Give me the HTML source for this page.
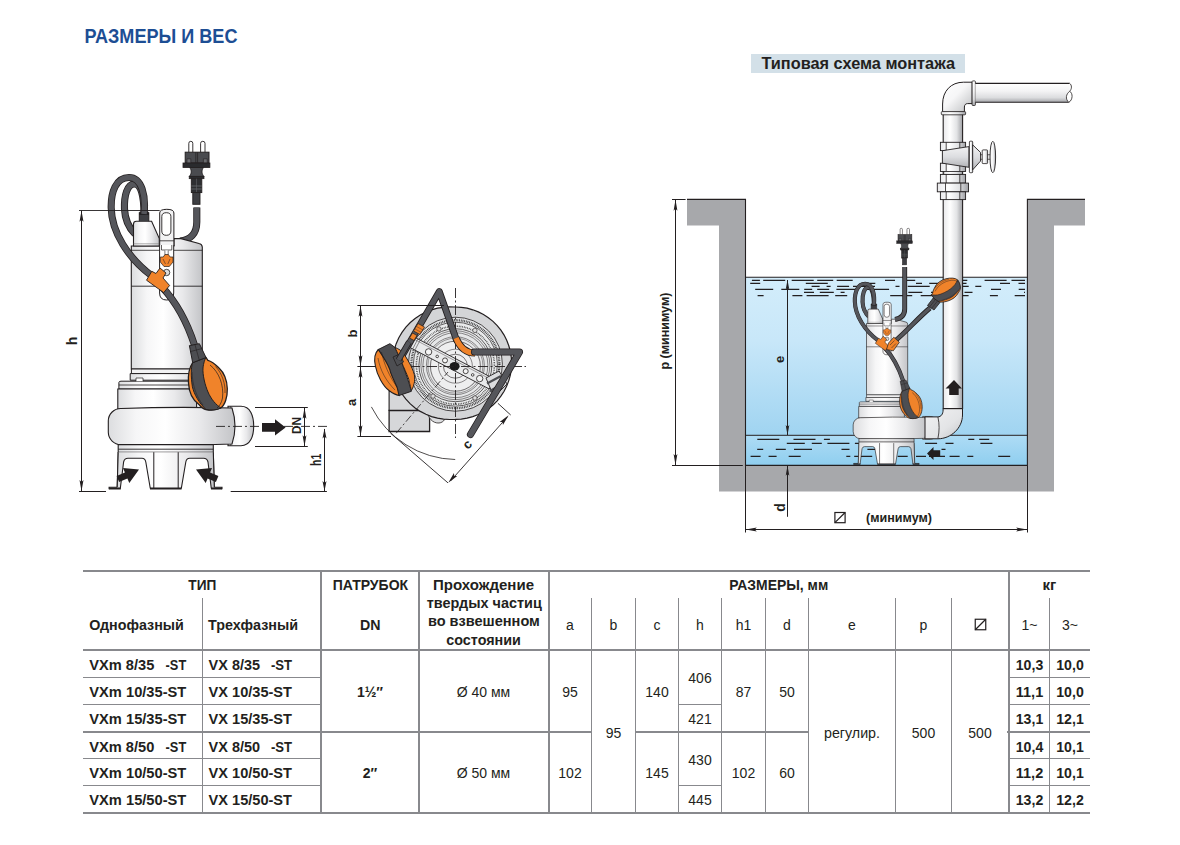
<!DOCTYPE html><html><head><meta charset="utf-8"><style>html,body{margin:0;padding:0;background:#fff;width:1180px;height:845px;overflow:hidden}svg{display:block}text{font-family:"Liberation Sans",sans-serif}</style></head><body>
<svg width="1180" height="845" viewBox="0 0 1180 845">
<defs>
<linearGradient id="water" x1="0" y1="0" x2="0" y2="1">
<stop offset="0" stop-color="#d3edfb"/><stop offset="0.4" stop-color="#c8e7f9"/><stop offset="1" stop-color="#a0d4f1"/></linearGradient>
<linearGradient id="water2" x1="0" y1="0" x2="0" y2="1">
<stop offset="0" stop-color="#aedcf5"/><stop offset="1" stop-color="#8fceef"/></linearGradient>
<linearGradient id="mV" x1="0" y1="0" x2="1" y2="0">
<stop offset="0" stop-color="#dcdddf"/><stop offset="0.22" stop-color="#f6f6f7"/><stop offset="0.45" stop-color="#ffffff"/><stop offset="0.72" stop-color="#e9e9eb"/><stop offset="1" stop-color="#c3c4c7"/></linearGradient>
<linearGradient id="mH" x1="0" y1="0" x2="0" y2="1">
<stop offset="0" stop-color="#f4f4f5"/><stop offset="0.45" stop-color="#ffffff"/><stop offset="1" stop-color="#bdbec1"/></linearGradient>
<linearGradient id="pipeV" x1="0" y1="0" x2="1" y2="0">
<stop offset="0" stop-color="#e8e8ea"/><stop offset="0.35" stop-color="#ffffff"/><stop offset="0.7" stop-color="#e2e3e5"/><stop offset="1" stop-color="#9fa0a4"/></linearGradient>
<linearGradient id="pipeH" x1="0" y1="0" x2="0" y2="1">
<stop offset="0" stop-color="#ffffff"/><stop offset="0.4" stop-color="#f4f4f5"/><stop offset="0.75" stop-color="#dcdddf"/><stop offset="1" stop-color="#a4a5a9"/></linearGradient>
<linearGradient id="elbow" x1="0" y1="0" x2="1" y2="1">
<stop offset="0" stop-color="#ffffff"/><stop offset="0.45" stop-color="#f6f6f7"/><stop offset="0.8" stop-color="#d0d1d3"/><stop offset="1" stop-color="#b0b1b4"/></linearGradient>
<linearGradient id="coneG" x1="0" y1="0" x2="0" y2="1">
<stop offset="0" stop-color="#f2f2f3"/><stop offset="0.5" stop-color="#dcdde0"/><stop offset="1" stop-color="#b2b3b6"/></linearGradient>
<linearGradient id="mH2" x1="0" y1="0" x2="1" y2="1">
<stop offset="0" stop-color="#f2f2f3"/><stop offset="0.6" stop-color="#e3e4e6"/><stop offset="1" stop-color="#c4c5c8"/></linearGradient>
<marker id="ah" viewBox="0 0 10 10" refX="10" refY="5" markerWidth="4.2" markerHeight="10" markerUnits="userSpaceOnUse" orient="auto"><path d="M0 0 L10 5 L0 10 L2 5 Z" fill="#231f20"/></marker>
</defs>
<text x="84.5" y="43" font-size="21" font-weight="700" text-anchor="start" fill="#1d4e94" textLength="153" lengthAdjust="spacingAndGlyphs" >РАЗМЕРЫ И ВЕС</text>
<rect x="751" y="54" width="214" height="19" fill="#d3e0e8"/>
<text x="761.5" y="68.7" font-size="16" font-weight="700" text-anchor="start" fill="#231f20" textLength="193.5" lengthAdjust="spacingAndGlyphs" >Типовая схема монтажа</text>
<path d="M687 199 H745.5 V465.4 H1027.4 V199 H1085 V225.6 H1054 V491.6 H719 V225.6 H687 Z" fill="#a7a8ab"/>
<rect x="745.5" y="277.3" width="281.9" height="158" fill="url(#water)"/>
<rect x="745.5" y="435.3" width="281.9" height="30.1" fill="url(#water2)"/>
<path d="M687 199.4 H745.5 V465.4 H1027.4 V199.4 H1085" fill="none" stroke="#231f20" stroke-width="1.1"/>
<line x1="745.5" y1="277.3" x2="1027.4" y2="277.3" stroke="#231f20" stroke-width="1.1" />
<line x1="745.5" y1="435.3" x2="1027.4" y2="435.3" stroke="#231f20" stroke-width="1" />
<path d="M751.9 280.3H759.9 M763.2 280.3H785.2 M791.7 280.3H813.7 M817.2 280.3H833.2 M836.7 280.3H852.7 M885.0 280.3H895.0 M903.2 280.3H915.2 M953.3 280.3H967.3 M984.6 280.3H1006.6 M1011.5 280.3H1025.0 M750.2 283.4H760.2 M805.8 283.4H827.8 M861.3 283.4H875.3 M916.0 283.4H922.0 M929.2 283.4H947.2 M952.5 283.4H966.5 M1000.0 283.4H1010.0 M1018.5 283.4H1025.0 M811.6 286.3H819.6 M826.6 286.3H830.6 M837.1 286.3H849.1 M853.0 286.3H875.0 M895.5 286.3H899.5 M907.7 286.3H929.7 M935.1 286.3H941.1 M946.5 286.3H956.5 M960.7 286.3H968.7 M975.3 286.3H981.3 M755.2 289.4H773.2 M781.3 289.4H799.3 M804.2 289.4H812.2 M817.2 289.4H829.2 M836.4 289.4H858.4 M867.1 289.4H889.1 M934.7 289.4H944.7 M991.0 289.4H1001.0 M1018.7 289.4H1025.0 M804.0 292.4H814.0 M819.8 292.4H833.8 M840.6 292.4H844.6 M908.3 292.4H922.3 M931.0 292.4H947.0 M964.5 292.4H972.5 M1024.0 292.4H1025.0 M757.6 295.6H763.6 M792.4 295.6H802.4 M806.6 295.6H828.6 M835.2 295.6H847.2 M890.2 295.6H912.2 M920.7 295.6H942.7 M946.6 295.6H968.6 M989.9 295.6H997.9 M1014.7 295.6H1025.0 M757.3 439.4H779.3 M793.5 439.4H815.5 M823.9 439.4H829.9 M862.7 439.4H874.7 M968.3 439.4H974.3 M979.2 439.4H989.2 M786.8 443.4H804.8 M811.8 443.4H821.8 M827.4 443.4H849.4 M854.9 443.4H868.9 M876.2 443.4H880.2 M886.0 443.4H890.0 M925.1 443.4H937.1 M945.5 443.4H953.5 M980.4 443.4H992.4 M757.2 449.4H763.2 M775.8 449.4H785.8 M794.0 449.4H812.0 M841.5 449.4H849.5 M867.4 449.4H875.4 M941.5 449.4H945.5 M750.6 456.3H760.6 M768.6 456.3H776.6 M788.7 456.3H800.7 M846.3 456.3H850.3 M854.2 456.3H872.2 M897.7 456.3H907.7 M916.0 456.3H926.0 M929.0 456.3H945.0 M949.6 456.3H959.6 M967.3 456.3H973.3 M998.2 456.3H1010.2" stroke="#231f20" stroke-width="1.15" fill="none"/>
<rect x="943.2" y="114" width="19.4" height="296" fill="url(#pipeV)"/>
<line x1="943.2" y1="114" x2="943.2" y2="409" stroke="#231f20" stroke-width="1.1" />
<line x1="962.6" y1="114" x2="962.6" y2="409" stroke="#231f20" stroke-width="1.1" />
<path d="M942.6 112 V104 C942.6 91 951 82.2 963.5 82.2 H972.2 V103.6 H967.5 C965.6 103.6 964.4 105 964.4 107 V112 Z" fill="url(#elbow)" stroke="#231f20" stroke-width="1"/>
<rect x="941.3" y="111.6" width="24.3" height="3.2" rx="0.8" fill="url(#pipeV)" stroke="#231f20" stroke-width="0.8"/>
<rect x="972.1" y="80.9" width="3.3" height="24.6" rx="0.8" fill="url(#pipeH)" stroke="#231f20" stroke-width="0.8"/>
<path d="M975.4 83.4 H1069.7 C1072 85 1072 89 1069.7 91.3 C1073 93 1073 100 1068.8 102.3 H975.4 Z" fill="url(#pipeH)"/>
<line x1="975.4" y1="83.4" x2="1069.7" y2="83.4" stroke="#231f20" stroke-width="1.1" />
<line x1="975.4" y1="102.3" x2="1068.8" y2="102.3" stroke="#231f20" stroke-width="1.1" />
<path d="M1069.7 83.4 C1072 85 1072 89 1069.7 91.3 C1066 94 1065 99 1068.8 102.3 C1073 100 1073 93 1069.7 91.3" fill="#fff" stroke="#231f20" stroke-width="0.8" />
<rect x="940.4" y="142.3" width="25.200000000000045" height="8.299999999999983" fill="url(#pipeV)" stroke="#231f20" stroke-width="0.9"/>
<path d="M946.2 142.3 V150.6 M959.8 142.3 V150.6" fill="none" stroke="#231f20" stroke-width="0.8" />
<rect x="940.4" y="163.2" width="25.200000000000045" height="8.300000000000011" fill="url(#pipeV)" stroke="#231f20" stroke-width="0.9"/>
<path d="M946.2 163.2 V171.5 M959.8 163.2 V171.5" fill="none" stroke="#231f20" stroke-width="0.8" />
<rect x="943.8" y="171.5" width="18.5" height="2.9" fill="url(#pipeV)" stroke="#231f20" stroke-width="0.7"/>
<rect x="940.4" y="174.4" width="25.200000000000045" height="8.699999999999989" fill="url(#pipeV)" stroke="#231f20" stroke-width="0.9"/>
<path d="M946.2 174.4 V183.1 M959.8 174.4 V183.1" fill="none" stroke="#231f20" stroke-width="0.8" />
<rect x="937.3" y="183.1" width="31.200000000000045" height="8.700000000000017" fill="url(#pipeV)" stroke="#231f20" stroke-width="0.9"/>
<path d="M945.5 183.1 V191.8 M960.8 183.1 V191.8" fill="none" stroke="#231f20" stroke-width="0.8" />
<rect x="940.4" y="191.8" width="25.200000000000045" height="7.799999999999983" fill="url(#pipeV)" stroke="#231f20" stroke-width="0.9"/>
<path d="M946.2 191.8 V199.6 M959.8 191.8 V199.6" fill="none" stroke="#231f20" stroke-width="0.8" />
<path d="M942.4 150.7 L968.9 146.6 V167.3 L942.4 163.2 Z" fill="url(#coneG)" stroke="#231f20" stroke-width="0.9"/>
<rect x="969.4" y="141.2" width="3.3" height="31.5" rx="0.8" fill="url(#pipeV)" stroke="#231f20" stroke-width="0.8"/>
<path d="M972.7 144.9 L980.5 152.4 V161.1 L972.7 169.8 Z" fill="url(#coneG)" stroke="#231f20" stroke-width="0.9"/>
<rect x="980.5" y="154.8" width="11" height="4.4" fill="#eee" stroke="#231f20" stroke-width="0.7"/>
<rect x="982.2" y="149.9" width="5.4" height="13.7" rx="0.8" fill="url(#pipeV)" stroke="#231f20" stroke-width="0.8"/>
<ellipse cx="992.8" cy="157" rx="2.8" ry="15.7" fill="url(#pipeV)" stroke="#231f20" stroke-width="0.9"/>
<g transform="translate(790.35 180.81) scale(0.58)">
<path d="M144 214 C144 196 141 184 134.5 184 C127 184 124 196 124.5 209 C125 220 129 228 135 234" fill="none" stroke="#231f20" stroke-width="7.1" stroke-linecap="butt" stroke-linejoin="round"/>
<path d="M144 214 C144 196 141 184 134.5 184 C127 184 124 196 124.5 209 C125 220 129 228 135 234" fill="none" stroke="#55565b" stroke-width="5.5" stroke-linecap="butt" stroke-linejoin="round"/>
<path d="M131.3 247 V369 H202.3 V247 Q202 244 199 243.5 L181 238.6 H174 V246 H131.3 Z" fill="url(#mV)" stroke="#231f20" stroke-width="1.1" />
<path d="M131.3 286.2 H202.3" fill="none" stroke="#231f20" stroke-width="0.9" />
<path d="M131.3 250.3 H159.6 M173.7 250.3 H202.3" fill="none" stroke="#231f20" stroke-width="0.8" />
<path d="M133.5 246 V224 Q133.5 221.2 136.5 221.2 H151.6 L159.3 238.5 V246 Z" fill="url(#mV)" stroke="#231f20" stroke-width="1.1" />
<path d="M133.5 243.8 H159" fill="none" stroke="#777" stroke-width="0.6" />
<path d="M139.3 221.2 V212.3 H148.8 V221.2" fill="#3d3e42" stroke="#231f20" stroke-width="1" />
<path d="M139.3 214 H148.8" fill="none" stroke="#111" stroke-width="1.2" />
<path d="M159.7 246 V213 Q159.7 209.3 166.8 209.3 Q173.9 209.3 173.9 213 V246" fill="#f2f2f3" stroke="#231f20" stroke-width="1" />
<path d="M161.8 231 V216.5 Q161.8 212.7 166.3 212.7 Q170.9 212.7 170.9 216.5 V231 Q170.9 235.3 166.3 235.3 Q161.8 235.3 161.8 231 Z" fill="#ffffff" stroke="#231f20" stroke-width="0.9" />
<path d="M159.7 240.8 H173.9" fill="none" stroke="#231f20" stroke-width="0.8" />
<path d="M159.6 245 V293 Q159.6 300 166.6 300 Q173.7 300 173.7 293 V245" fill="#ffffff" stroke="#231f20" stroke-width="1" />
<path d="M161.5 245 V250 H171.8 V245" fill="none" stroke="#231f20" stroke-width="0.7" />
<path d="M164.9 250.5 V256 H168.2 V250.5" fill="#fff" stroke="#231f20" stroke-width="0.6" />
<path d="M160.3 257 H163.2 L165 254.5 H168.3 L170.2 257 H173 V262 L169.3 266.5 H164 L160.3 262 Z" fill="#f0832a" stroke="#231f20" stroke-width="0.7" />
<path d="M163 259 L165.5 264 M170 259 L167.8 264" fill="none" stroke="#231f20" stroke-width="0.5" />
<circle cx="166.6" cy="272.5" r="3.2" fill="#ddd" stroke="#231f20" stroke-width="0.8"/>
<path d="M131.4 369 H202 V373.6 H131.4 Z" fill="#f2f2f3" stroke="#231f20" stroke-width="1" />
<path d="M130.2 373.6 H203 V380.2 H130.2 Z" fill="url(#mV)" stroke="#231f20" stroke-width="1" />
<path d="M118.9 389 V382.5 Q118.9 381.2 121 381.2 H200.4 V389 Z" fill="url(#mV)" stroke="#231f20" stroke-width="1" />
<path d="M118.9 385 H200.4" fill="none" stroke="#231f20" stroke-width="0.8" />
<path d="M136 381.2 V378 H143 V381.2" fill="#fff" stroke="#231f20" stroke-width="0.7" />
<path d="M117.8 409 V389 H196.6 V409 Z" fill="url(#mV)" stroke="#231f20" stroke-width="1.1" />
<path d="M228 406.3 H241 C250.5 406.3 253.7 416 253.7 426 C253.7 436 250.5 445.7 241 445.7 H228 Z" fill="url(#mV)" stroke="#231f20" stroke-width="1.1" />
<path d="M230.7 406.3 Q235 426 230.7 445.7" fill="none" stroke="#231f20" stroke-width="0.8" />
<path d="M121 408.5 Q175 406.5 232 408 Q238 426 232 444 Q175 446 121 444.6 A12.5 12.5 0 0 1 108.3 432.3 V420.8 A12.5 12.5 0 0 1 121 408.5 Z" fill="url(#mV)" stroke="#231f20" stroke-width="1.1" />
<path d="M118.2 452.2 V444.6 H213.3 V452.2 Z" fill="url(#mV)" stroke="#231f20" stroke-width="1.1" />
<path d="M118.2 449.2 H213.3" fill="none" stroke="#231f20" stroke-width="0.9" />
<path d="M118.2 452.2 L117.2 487.3 H109.1 V489.3 M222 489.3 V487.3 H214.3 L213.3 452.2" fill="none" stroke="#231f20" stroke-width="1.1" />
<path fill-rule="evenodd" d="M118.2 452.2 L117.2 488.3 H214.3 L213.3 452.2 Z M120.3 488.3 L123.6 462 Q124.5 458.3 128 458.3 H142 Q145 458.3 145.8 462 L150.3 488.3 Z M181.3 488.3 L185.8 462 Q186.6 458.3 189.6 458.3 H203.6 Q207 458.3 208 462 L211.3 488.3 Z" fill="url(#mV)"/>
<path d="M118.2 452.2 L117.2 487.3 M214.3 487.3 L213.3 452.2" fill="none" stroke="#231f20" stroke-width="1.1" />
<path d="M120.3 488.5 L123.6 462 Q124.5 458.3 128 458.3 H142 Q145 458.3 145.8 462 L150.3 488.5" fill="none" stroke="#231f20" stroke-width="1.1" />
<path d="M181.3 488.5 L185.8 462 Q186.6 458.3 189.6 458.3 H203.6 Q207 458.3 208 462 L211.3 488.5" fill="none" stroke="#231f20" stroke-width="1.1" />
<path d="M153.8 452.2 V488 M178.2 452.2 V488" fill="none" stroke="#231f20" stroke-width="1" />
<path d="M109.1 488.4 H120.8 M150 488.4 H181.6 M211 488.4 H222" fill="none" stroke="#231f20" stroke-width="2" />
<path d="M144 214 C146 196 142 177.5 129 177.5 C116 177.5 110.8 192 111.2 208 C111.6 232 128 258 152 276" fill="none" stroke="#231f20" stroke-width="7.1" stroke-linecap="butt" stroke-linejoin="round"/>
<path d="M144 214 C146 196 142 177.5 129 177.5 C116 177.5 110.8 192 111.2 208 C111.6 232 128 258 152 276" fill="none" stroke="#55565b" stroke-width="5.5" stroke-linecap="butt" stroke-linejoin="round"/>
<path d="M162 287 C176 302 187 322 194.5 345" fill="none" stroke="#231f20" stroke-width="7.1" stroke-linecap="butt" stroke-linejoin="round"/>
<path d="M162 287 C176 302 187 322 194.5 345" fill="none" stroke="#55565b" stroke-width="5.5" stroke-linecap="butt" stroke-linejoin="round"/>
<path d="M146.5 280.2 L151.8 271.3 L156 273.5 L160 268 L166 273 L163 278 L169.6 285.5 L163.7 292.6 Z" fill="#f0832a" stroke="#231f20" stroke-width="0.9" />
<g transform="translate(0 0) rotate(0) scale(1.0)">
<path d="M192.7 362.7 C189 368 188 376 188.5 383 C189 392 193 400 198.4 404 C201 407 203 409 206 409.5 C211 410.5 217 410 221.1 407.7 C225 405 227.5 397 227.3 388.7 C227 380 224 372.6 219 368 C215 364 211 361 207.9 360.3 L206 357.5 Z" fill="#f0832a" stroke="#231f20" stroke-width="1.3" />
<path d="M192.7 362.7 C190.8 368 190.8 376 192.4 386.8 C194 394 199 403 206 409.5 C211 410.5 217 410 221.1 408 C216 405 211 399 208 392 C205 385 202.5 375 203 368 C203.5 363 205 359 206 357.5 Z" fill="#4d4e52" stroke="#231f20" stroke-width="1" />
<path d="M210 365 C219 372 224 385 222.5 398 C221.5 403 219.5 406 217 408" fill="none" stroke="#231f20" stroke-width="0.7" />
<path d="M215.5 366.5 C222 373 225.5 384 225 393" fill="none" stroke="#231f20" stroke-width="0.6" />
<path d="M192 372 C192.5 385 196 396 203 405" fill="none" stroke="#231f20" stroke-width="0.5" />
<path d="M189.4 345.6 L199.4 343.7 L206 357.5 L192.7 362.7 Z" fill="#4d4e52" stroke="#231f20" stroke-width="1" />
<path d="M190.6 351.5 L201.8 348.6 M195 344.8 L199.3 360.3" fill="none" stroke="#231f20" stroke-width="0.6" />
</g>
</g>
<path d="M943.1 408.6 V410 C943.1 414 941 416.9 937.9 416.9 H925 V438.8 H937.9 C951 438.8 962.5 428 962.5 415 V408.6 Z" fill="url(#mH2)" stroke="#231f20" stroke-width="1"/>
<line x1="943.1" y1="408.6" x2="962.5" y2="408.6" stroke="#231f20" stroke-width="1" />
<path d="M937.9 416.9 C939.5 424 939.5 431 937.9 438.6" fill="none" stroke="#231f20" stroke-width="0.8" />
<path d="M954 380 L962 388.5 H958.7 V395 H949.2 V388.5 H945.5 Z" fill="#231f20"/>
<path d="M927 453.5 L933.5 446.9 V450.3 H940.2 V457 H933.5 V460.1 Z" fill="#231f20"/>
<path d="M904.7 267 V309 C904.7 315 901 318.5 895 319.5" fill="none" stroke="#231f20" stroke-width="4.9" stroke-linecap="butt" stroke-linejoin="round"/>
<path d="M904.7 267 V309 C904.7 315 901 318.5 895 319.5" fill="none" stroke="#55565b" stroke-width="3.3" stroke-linecap="butt" stroke-linejoin="round"/>
<g transform="translate(900 228.3) scale(0.58)">
<path d="M0.2 11 V2 Q0.2 0 2.2 0 Q4.2 0 4.2 2 V11" fill="#fff" stroke="#231f20" stroke-width="0.9"/>
<path d="M12 11 V2 Q12 0 14.2 0 Q16.4 0 16.4 2 V11" fill="#fff" stroke="#231f20" stroke-width="0.9"/>
<rect x="-3.4" y="10.9" width="23.8" height="10.8" fill="#4a4b4f" stroke="#231f20" stroke-width="1"/>
<path d="M7.2 11 V21.5 M9 11 V21.5" stroke="#231f20" stroke-width="0.7"/>
<path d="M-1.6 21.5 V17.5 H2.2 V21.5 M18.6 21.5 V17.5 H14.8 V21.5" fill="#6b6c70" stroke="#231f20" stroke-width="0.6"/>
<rect x="-5.6" y="21.7" width="26.9" height="4.5" fill="#2a2b2e" stroke="#231f20" stroke-width="0.8"/>
<path d="M1.1 26.2 C3.2 29 3.2 32.5 0.6 35.1 H15.4 C12.8 32.5 12.8 29 14.9 26.2 Z" fill="#4a4b4f" stroke="#231f20" stroke-width="0.9"/>
<rect x="0.6" y="35.1" width="14.8" height="2.3" fill="#2a2b2e" stroke="#231f20" stroke-width="0.7"/>
<rect x="2.7" y="37.4" width="10.5" height="13.9" fill="#2e2f32" stroke="#231f20" stroke-width="0.9"/>
<path d="M2.7 44.7 H13.2 M2.7 47.7 H13.2" stroke="#6b6c70" stroke-width="0.8"/>
<path d="M7.9 37.4 V51.3" stroke="#6b6c70" stroke-width="0.5"/>
<rect x="4.2" y="51.3" width="7.2" height="11.7" fill="#3e3f43" stroke="#231f20" stroke-width="0.9"/>
</g>
<path d="M895 341 C906 332 918 318 930 308" fill="none" stroke="#231f20" stroke-width="4.9" stroke-linecap="butt" stroke-linejoin="round"/>
<path d="M895 341 C906 332 918 318 930 308" fill="none" stroke="#55565b" stroke-width="3.3" stroke-linecap="butt" stroke-linejoin="round"/>
<path d="M886.5 349.5 L888.5 343 L893.8 337.2 L899.3 342.3 L893.3 350.8 Z" fill="#f0832a" stroke="#231f20" stroke-width="0.7" />
<path d="M890 345 L894.5 340.5 M891.5 348 L896 343.5" fill="none" stroke="#231f20" stroke-width="0.5" />
<g transform="translate(946.8 290.5) rotate(-103) scale(0.57) translate(-206.9 -385.4)">
<g transform="translate(0 0) rotate(0) scale(1.0)">
<path d="M192.7 362.7 C189 368 188 376 188.5 383 C189 392 193 400 198.4 404 C201 407 203 409 206 409.5 C211 410.5 217 410 221.1 407.7 C225 405 227.5 397 227.3 388.7 C227 380 224 372.6 219 368 C215 364 211 361 207.9 360.3 L206 357.5 Z" fill="#f0832a" stroke="#231f20" stroke-width="1.3" />
<path d="M192.7 362.7 C190.8 368 190.8 376 192.4 386.8 C194 394 199 403 206 409.5 C211 410.5 217 410 221.1 408 C216 405 211 399 208 392 C205 385 202.5 375 203 368 C203.5 363 205 359 206 357.5 Z" fill="#4d4e52" stroke="#231f20" stroke-width="1" />
<path d="M210 365 C219 372 224 385 222.5 398 C221.5 403 219.5 406 217 408" fill="none" stroke="#231f20" stroke-width="0.7" />
<path d="M215.5 366.5 C222 373 225.5 384 225 393" fill="none" stroke="#231f20" stroke-width="0.6" />
<path d="M192 372 C192.5 385 196 396 203 405" fill="none" stroke="#231f20" stroke-width="0.5" />
</g>
</g>
<path d="M927.5 305.5 L933.2 298 L940 302.5 L934 310 Z" fill="#4d4e52" stroke="#231f20" stroke-width="0.8" />
<path d="M929.5 307 L935.5 299.5 M931.5 308.5 L937.5 301" fill="none" stroke="#231f20" stroke-width="0.5" />
<line x1="672" y1="199.5" x2="685.6" y2="199.5" stroke="#231f20" stroke-width="1" />
<line x1="672" y1="465.5" x2="742.8" y2="465.5" stroke="#231f20" stroke-width="1" />
<line x1="675.5" y1="200" x2="675.5" y2="465" stroke="#231f20" stroke-width="1" />
<path d="M675.50 199.80 L677.40 210.80 L675.50 208.80 L673.60 210.80 Z" fill="#231f20"/>
<path d="M675.50 465.00 L673.60 454.00 L675.50 456.00 L677.40 454.00 Z" fill="#231f20"/>
<text x="0" y="0" transform="translate(668.8 331.1) rotate(-90)" font-size="13" font-weight="700" text-anchor="middle" fill="#231f20" textLength="77" lengthAdjust="spacingAndGlyphs">p (минимум)</text>
<line x1="787.5" y1="280" x2="787.5" y2="435" stroke="#231f20" stroke-width="1" />
<path d="M787.50 279.80 L789.30 289.80 L787.50 287.80 L785.70 289.80 Z" fill="#231f20"/>
<path d="M787.50 435.00 L785.70 425.00 L787.50 427.00 L789.30 425.00 Z" fill="#231f20"/>
<text x="0" y="0" transform="translate(784.1 359.4) rotate(-90)" font-size="13" font-weight="700" text-anchor="middle" fill="#231f20">e</text>
<line x1="787.5" y1="466" x2="787.5" y2="516.8" stroke="#231f20" stroke-width="1" />
<path d="M787.50 465.80 L789.30 475.80 L787.50 473.80 L785.70 475.80 Z" fill="#231f20"/>
<text x="0" y="0" transform="translate(785.2 507.5) rotate(-90)" font-size="14" font-weight="700" text-anchor="middle" fill="#231f20">d</text>
<line x1="745.5" y1="466" x2="745.5" y2="532.5" stroke="#231f20" stroke-width="1" />
<line x1="1027.5" y1="466" x2="1027.5" y2="532.5" stroke="#231f20" stroke-width="1" />
<line x1="746" y1="529.5" x2="1027" y2="529.5" stroke="#231f20" stroke-width="1" />
<path d="M745.80 529.50 L756.80 527.60 L754.80 529.50 L756.80 531.40 Z" fill="#231f20"/>
<path d="M1027.10 529.50 L1016.10 531.40 L1018.10 529.50 L1016.10 527.60 Z" fill="#231f20"/>
<rect x="834.9" y="512.5" width="10.2" height="10.2" fill="none" stroke="#231f20" stroke-width="1.2"/>
<line x1="834.9" y1="522.7" x2="845.1" y2="512.5" stroke="#231f20" stroke-width="1.2"/>
<text x="866" y="521.6" font-size="13" font-weight="700" text-anchor="start" fill="#231f20" textLength="66" lengthAdjust="spacingAndGlyphs" >(минимум)</text>
<path d="M196.8 207.5 V222 C196.8 234 190 240 180 241" fill="none" stroke="#231f20" stroke-width="7.1" stroke-linecap="butt" stroke-linejoin="round"/>
<path d="M196.8 207.5 V222 C196.8 234 190 240 180 241" fill="none" stroke="#55565b" stroke-width="5.5" stroke-linecap="butt" stroke-linejoin="round"/>
<path d="M144 214 C144 196 141 184 134.5 184 C127 184 124 196 124.5 209 C125 220 129 228 135 234" fill="none" stroke="#231f20" stroke-width="7.1" stroke-linecap="butt" stroke-linejoin="round"/>
<path d="M144 214 C144 196 141 184 134.5 184 C127 184 124 196 124.5 209 C125 220 129 228 135 234" fill="none" stroke="#55565b" stroke-width="5.5" stroke-linecap="butt" stroke-linejoin="round"/>
<path d="M131.3 247 V369 H202.3 V247 Q202 244 199 243.5 L181 238.6 H174 V246 H131.3 Z" fill="url(#mV)" stroke="#231f20" stroke-width="1.1" />
<path d="M131.3 286.2 H202.3" fill="none" stroke="#231f20" stroke-width="0.9" />
<path d="M131.3 250.3 H159.6 M173.7 250.3 H202.3" fill="none" stroke="#231f20" stroke-width="0.8" />
<path d="M133.5 246 V224 Q133.5 221.2 136.5 221.2 H151.6 L159.3 238.5 V246 Z" fill="url(#mV)" stroke="#231f20" stroke-width="1.1" />
<path d="M133.5 243.8 H159" fill="none" stroke="#777" stroke-width="0.6" />
<path d="M139.3 221.2 V212.3 H148.8 V221.2" fill="#3d3e42" stroke="#231f20" stroke-width="1" />
<path d="M139.3 214 H148.8" fill="none" stroke="#111" stroke-width="1.2" />
<path d="M159.7 246 V213 Q159.7 209.3 166.8 209.3 Q173.9 209.3 173.9 213 V246" fill="#f2f2f3" stroke="#231f20" stroke-width="1" />
<path d="M161.8 231 V216.5 Q161.8 212.7 166.3 212.7 Q170.9 212.7 170.9 216.5 V231 Q170.9 235.3 166.3 235.3 Q161.8 235.3 161.8 231 Z" fill="#ffffff" stroke="#231f20" stroke-width="0.9" />
<path d="M159.7 240.8 H173.9" fill="none" stroke="#231f20" stroke-width="0.8" />
<path d="M159.6 245 V293 Q159.6 300 166.6 300 Q173.7 300 173.7 293 V245" fill="#ffffff" stroke="#231f20" stroke-width="1" />
<path d="M161.5 245 V250 H171.8 V245" fill="none" stroke="#231f20" stroke-width="0.7" />
<path d="M164.9 250.5 V256 H168.2 V250.5" fill="#fff" stroke="#231f20" stroke-width="0.6" />
<path d="M160.3 257 H163.2 L165 254.5 H168.3 L170.2 257 H173 V262 L169.3 266.5 H164 L160.3 262 Z" fill="#f0832a" stroke="#231f20" stroke-width="0.7" />
<path d="M163 259 L165.5 264 M170 259 L167.8 264" fill="none" stroke="#231f20" stroke-width="0.5" />
<circle cx="166.6" cy="272.5" r="3.2" fill="#ddd" stroke="#231f20" stroke-width="0.8"/>
<path d="M131.4 369 H202 V373.6 H131.4 Z" fill="#f2f2f3" stroke="#231f20" stroke-width="1" />
<path d="M130.2 373.6 H203 V380.2 H130.2 Z" fill="url(#mV)" stroke="#231f20" stroke-width="1" />
<path d="M118.9 389 V382.5 Q118.9 381.2 121 381.2 H200.4 V389 Z" fill="url(#mV)" stroke="#231f20" stroke-width="1" />
<path d="M118.9 385 H200.4" fill="none" stroke="#231f20" stroke-width="0.8" />
<path d="M136 381.2 V378 H143 V381.2" fill="#fff" stroke="#231f20" stroke-width="0.7" />
<path d="M117.8 409 V389 H196.6 V409 Z" fill="url(#mV)" stroke="#231f20" stroke-width="1.1" />
<path d="M228 406.3 H241 C250.5 406.3 253.7 416 253.7 426 C253.7 436 250.5 445.7 241 445.7 H228 Z" fill="url(#mV)" stroke="#231f20" stroke-width="1.1" />
<path d="M230.7 406.3 Q235 426 230.7 445.7" fill="none" stroke="#231f20" stroke-width="0.8" />
<path d="M121 408.5 Q175 406.5 232 408 Q238 426 232 444 Q175 446 121 444.6 A12.5 12.5 0 0 1 108.3 432.3 V420.8 A12.5 12.5 0 0 1 121 408.5 Z" fill="url(#mV)" stroke="#231f20" stroke-width="1.1" />
<path d="M118.2 452.2 V444.6 H213.3 V452.2 Z" fill="url(#mV)" stroke="#231f20" stroke-width="1.1" />
<path d="M118.2 449.2 H213.3" fill="none" stroke="#231f20" stroke-width="0.9" />
<path d="M118.2 452.2 L117.2 487.3 H109.1 V489.3 M222 489.3 V487.3 H214.3 L213.3 452.2" fill="none" stroke="#231f20" stroke-width="1.1" />
<path fill-rule="evenodd" d="M118.2 452.2 L117.2 488.3 H214.3 L213.3 452.2 Z M120.3 488.3 L123.6 462 Q124.5 458.3 128 458.3 H142 Q145 458.3 145.8 462 L150.3 488.3 Z M181.3 488.3 L185.8 462 Q186.6 458.3 189.6 458.3 H203.6 Q207 458.3 208 462 L211.3 488.3 Z" fill="url(#mV)"/>
<path d="M118.2 452.2 L117.2 487.3 M214.3 487.3 L213.3 452.2" fill="none" stroke="#231f20" stroke-width="1.1" />
<path d="M120.3 488.5 L123.6 462 Q124.5 458.3 128 458.3 H142 Q145 458.3 145.8 462 L150.3 488.5" fill="none" stroke="#231f20" stroke-width="1.1" />
<path d="M181.3 488.5 L185.8 462 Q186.6 458.3 189.6 458.3 H203.6 Q207 458.3 208 462 L211.3 488.5" fill="none" stroke="#231f20" stroke-width="1.1" />
<path d="M153.8 452.2 V488 M178.2 452.2 V488" fill="none" stroke="#231f20" stroke-width="1" />
<path d="M109.1 488.4 H120.8 M150 488.4 H181.6 M211 488.4 H222" fill="none" stroke="#231f20" stroke-width="2" />
<path d="M123.0 468.0 L139.0 469.4 L129.3 483.0 L127.4 478.5 L119.1 482.0 L116.6 476.0 L124.9 472.5 Z" fill="#231f20"/>
<path d="M212.0 468.0 L196.0 469.4 L205.7 483.0 L207.6 478.5 L215.9 482.0 L218.4 476.0 L210.1 472.5 Z" fill="#231f20"/>
<path d="M144 214 C146 196 142 177.5 129 177.5 C116 177.5 110.8 192 111.2 208 C111.6 232 128 258 152 276" fill="none" stroke="#231f20" stroke-width="7.1" stroke-linecap="butt" stroke-linejoin="round"/>
<path d="M144 214 C146 196 142 177.5 129 177.5 C116 177.5 110.8 192 111.2 208 C111.6 232 128 258 152 276" fill="none" stroke="#55565b" stroke-width="5.5" stroke-linecap="butt" stroke-linejoin="round"/>
<path d="M162 287 C176 302 187 322 194.5 345" fill="none" stroke="#231f20" stroke-width="7.1" stroke-linecap="butt" stroke-linejoin="round"/>
<path d="M162 287 C176 302 187 322 194.5 345" fill="none" stroke="#55565b" stroke-width="5.5" stroke-linecap="butt" stroke-linejoin="round"/>
<path d="M146.5 280.2 L151.8 271.3 L156 273.5 L160 268 L166 273 L163 278 L169.6 285.5 L163.7 292.6 Z" fill="#f0832a" stroke="#231f20" stroke-width="0.9" />
<g transform="translate(0 0) rotate(0) scale(1.0)">
<path d="M192.7 362.7 C189 368 188 376 188.5 383 C189 392 193 400 198.4 404 C201 407 203 409 206 409.5 C211 410.5 217 410 221.1 407.7 C225 405 227.5 397 227.3 388.7 C227 380 224 372.6 219 368 C215 364 211 361 207.9 360.3 L206 357.5 Z" fill="#f0832a" stroke="#231f20" stroke-width="1.3" />
<path d="M192.7 362.7 C190.8 368 190.8 376 192.4 386.8 C194 394 199 403 206 409.5 C211 410.5 217 410 221.1 408 C216 405 211 399 208 392 C205 385 202.5 375 203 368 C203.5 363 205 359 206 357.5 Z" fill="#4d4e52" stroke="#231f20" stroke-width="1" />
<path d="M210 365 C219 372 224 385 222.5 398 C221.5 403 219.5 406 217 408" fill="none" stroke="#231f20" stroke-width="0.7" />
<path d="M215.5 366.5 C222 373 225.5 384 225 393" fill="none" stroke="#231f20" stroke-width="0.6" />
<path d="M192 372 C192.5 385 196 396 203 405" fill="none" stroke="#231f20" stroke-width="0.5" />
<path d="M189.4 345.6 L199.4 343.7 L206 357.5 L192.7 362.7 Z" fill="#4d4e52" stroke="#231f20" stroke-width="1" />
<path d="M190.6 351.5 L201.8 348.6 M195 344.8 L199.3 360.3" fill="none" stroke="#231f20" stroke-width="0.6" />
</g>
<g transform="translate(188.6 141.3) scale(1.0)">
<path d="M0.2 11 V2 Q0.2 0 2.2 0 Q4.2 0 4.2 2 V11" fill="#fff" stroke="#231f20" stroke-width="0.9"/>
<path d="M12 11 V2 Q12 0 14.2 0 Q16.4 0 16.4 2 V11" fill="#fff" stroke="#231f20" stroke-width="0.9"/>
<rect x="-3.4" y="10.9" width="23.8" height="10.8" fill="#4a4b4f" stroke="#231f20" stroke-width="1"/>
<path d="M7.2 11 V21.5 M9 11 V21.5" stroke="#231f20" stroke-width="0.7"/>
<path d="M-1.6 21.5 V17.5 H2.2 V21.5 M18.6 21.5 V17.5 H14.8 V21.5" fill="#6b6c70" stroke="#231f20" stroke-width="0.6"/>
<rect x="-5.6" y="21.7" width="26.9" height="4.5" fill="#2a2b2e" stroke="#231f20" stroke-width="0.8"/>
<path d="M1.1 26.2 C3.2 29 3.2 32.5 0.6 35.1 H15.4 C12.8 32.5 12.8 29 14.9 26.2 Z" fill="#4a4b4f" stroke="#231f20" stroke-width="0.9"/>
<rect x="0.6" y="35.1" width="14.8" height="2.3" fill="#2a2b2e" stroke="#231f20" stroke-width="0.7"/>
<rect x="2.7" y="37.4" width="10.5" height="13.9" fill="#2e2f32" stroke="#231f20" stroke-width="0.9"/>
<path d="M2.7 44.7 H13.2 M2.7 47.7 H13.2" stroke="#6b6c70" stroke-width="0.8"/>
<path d="M7.9 37.4 V51.3" stroke="#6b6c70" stroke-width="0.5"/>
<rect x="4.2" y="51.3" width="7.2" height="11.7" fill="#3e3f43" stroke="#231f20" stroke-width="0.9"/>
</g>
<line x1="79" y1="210.5" x2="159.7" y2="210.5" stroke="#231f20" stroke-width="0.9" />
<line x1="81.5" y1="210.5" x2="81.5" y2="491" stroke="#231f20" stroke-width="1" />
<path d="M81.50 210.80 L83.50 221.80 L81.50 219.80 L79.50 221.80 Z" fill="#231f20"/>
<path d="M81.50 491.00 L79.50 480.00 L81.50 482.00 L83.50 480.00 Z" fill="#231f20"/>
<line x1="79" y1="491.5" x2="106" y2="491.5" stroke="#231f20" stroke-width="1" />
<line x1="230.7" y1="491.5" x2="326.9" y2="491.5" stroke="#231f20" stroke-width="1" />
<text x="0" y="0" transform="translate(77.2 341) rotate(-90)" font-size="14" font-weight="700" text-anchor="middle" fill="#231f20">h</text>
<line x1="255" y1="407.5" x2="307.8" y2="407.5" stroke="#231f20" stroke-width="1" />
<line x1="255" y1="446.5" x2="307.8" y2="446.5" stroke="#231f20" stroke-width="1" />
<line x1="304.5" y1="407.5" x2="304.5" y2="446" stroke="#231f20" stroke-width="1" />
<path d="M304.50 407.80 L306.40 418.80 L304.50 416.80 L302.60 418.80 Z" fill="#231f20"/>
<path d="M304.50 446.20 L302.60 435.20 L304.50 437.20 L306.40 435.20 Z" fill="#231f20"/>
<text x="0" y="0" transform="translate(300.5 425.5) rotate(-90)" font-size="13" font-weight="700" text-anchor="middle" fill="#231f20" textLength="17" lengthAdjust="spacingAndGlyphs">DN</text>
<line x1="216" y1="426.4" x2="329" y2="426.4" stroke="#231f20" stroke-width="0.9" stroke-dasharray="9 3 2 3"/>
<path d="M262 423 H275 V419.3 L285.6 427.5 L275 435.6 V431.7 H262 Z" fill="#231f20"/>
<line x1="324.5" y1="429" x2="324.5" y2="491" stroke="#231f20" stroke-width="1" />
<path d="M324.50 428.60 L326.50 438.60 L324.50 436.60 L322.50 438.60 Z" fill="#231f20"/>
<path d="M324.50 491.00 L322.50 481.00 L324.50 483.00 L326.50 481.00 Z" fill="#231f20"/>
<text x="0" y="0" transform="translate(321.3 459.9) rotate(-90)" font-size="14" font-weight="700" text-anchor="middle" fill="#231f20" textLength="12" lengthAdjust="spacingAndGlyphs">h1</text>
<path d="M389.1 391.3 H432 V410.5 H389.1 Z" fill="#d6d7d9" stroke="#231f20" stroke-width="1.1" />
<path d="M389.1 410.5 H429.6 V431.5 H389.1 Z" fill="#d6d7d9" stroke="#231f20" stroke-width="1.3" />
<path d="M427.5 409 C427 418 433 423.5 439 423 C444 422.5 446.5 418 446.5 412 Z" fill="#dcdddf" stroke="#231f20" stroke-width="0.8" />
<path d="M511.6 363.2 L511.3 369.1 L510.4 374.9 L508.8 380.6 L506.7 386.1 L504.1 391.3 L500.9 396.2 L497.2 400.8 L493.0 405.0 L488.4 408.7 L483.5 411.9 L478.3 414.5 L472.8 416.6 L467.1 418.2 L461.3 419.1 L455.4 419.4 L449.5 419.5 L443.5 419.1 L437.5 418.2 L431.6 416.6 L425.9 414.3 L420.3 411.4 L415.1 407.9 L410.3 403.9 L405.9 399.2 L402.0 394.0 L398.7 388.4 L396.1 382.5 L394.2 376.2 L393.1 369.7 L392.7 363.2 L393.1 356.7 L394.2 350.2 L396.1 343.9 L398.7 338.0 L402.0 332.4 L405.9 327.2 L410.3 322.5 L415.1 318.5 L420.3 315.0 L425.9 312.1 L431.6 309.8 L437.5 308.2 L443.5 307.3 L449.5 306.9 L455.4 307.0 L461.3 307.3 L467.1 308.2 L472.8 309.8 L478.3 311.9 L483.5 314.5 L488.4 317.7 L493.0 321.4 L497.2 325.6 L500.9 330.2 L504.1 335.1 L506.7 340.3 L508.8 345.8 L510.4 351.5 L511.3 357.3 L511.6 363.2 Z" fill="#d4d5d7" stroke="#231f20" stroke-width="1.2" />
<circle cx="455.4" cy="364.2" r="47" fill="#e3e4e6" stroke="#231f20" stroke-width="0.8"/>
<circle cx="455.4" cy="364.2" r="44" fill="none" stroke="#333" stroke-width="2.2" stroke-dasharray="0.8 0.9"/>
<circle cx="455.4" cy="364.2" r="42" fill="#e9eaeb" stroke="#231f20" stroke-width="0.7"/>
<circle cx="455.4" cy="365.2" r="36.5" fill="#e6e7e8" stroke="#231f20" stroke-width="0.7"/>
<circle cx="455.4" cy="365.2" r="34.5" fill="none" stroke="#231f20" stroke-width="0.5"/>
<circle cx="455.4" cy="365.2" r="32.5" fill="none" stroke="#231f20" stroke-width="0.5"/>
<circle cx="455.4" cy="366.2" r="25" fill="#eeeeef" stroke="#231f20" stroke-width="0.6"/>
<circle cx="455.4" cy="366.2" r="17" fill="none" stroke="#231f20" stroke-width="0.5"/>
<circle cx="455.4" cy="365.2" r="39" fill="none" stroke="#333" stroke-width="1.6" stroke-dasharray="0.7 1"/>
<circle cx="455.4" cy="365.7" r="29" fill="none" stroke="#231f20" stroke-width="0.5"/>
<circle cx="455.4" cy="365.7" r="27.5" fill="none" stroke="#231f20" stroke-width="0.4"/>
<circle cx="455.4" cy="366.2" r="12" fill="none" stroke="#231f20" stroke-width="0.6"/>
<circle cx="438.9" cy="328.9" r="2.2" fill="#ddd" stroke="#231f20" stroke-width="0.6"/>
<circle cx="474.9" cy="330.4" r="2.2" fill="#ddd" stroke="#231f20" stroke-width="0.6"/>
<circle cx="474.9" cy="398.0" r="2.2" fill="#ddd" stroke="#231f20" stroke-width="0.6"/>
<circle cx="433.0" cy="396.1" r="2.2" fill="#ddd" stroke="#231f20" stroke-width="0.6"/>
<circle cx="418.8" cy="350.9" r="2.2" fill="#ddd" stroke="#231f20" stroke-width="0.6"/>
<path d="M413.0 336.4 L494.5 379.1 L489.3 389.0 L407.8 346.4 Z" fill="#e9eaeb" stroke="#231f20" stroke-width="0.9" />
<path d="M412.1 338.2 L493.6 380.9" fill="none" stroke="#231f20" stroke-width="0.4" />
<circle cx="428.6" cy="351.9" r="3.2" fill="#f4f4f4" stroke="#231f20" stroke-width="0.8"/>
<circle cx="437.2" cy="356.4" r="1.3" fill="#f4f4f4" stroke="#231f20" stroke-width="0.8"/>
<circle cx="445.0" cy="360.4" r="2.5" fill="#f4f4f4" stroke="#231f20" stroke-width="0.8"/>
<circle cx="465.7" cy="371.2" r="2.5" fill="#f4f4f4" stroke="#231f20" stroke-width="0.8"/>
<circle cx="472.7" cy="374.9" r="1.3" fill="#f4f4f4" stroke="#231f20" stroke-width="0.8"/>
<circle cx="479.7" cy="378.6" r="3.2" fill="#f4f4f4" stroke="#231f20" stroke-width="0.8"/>
<path d="M415.7 337.8 L410.5 347.8" fill="none" stroke="#231f20" stroke-width="0.5" />
<path d="M417.9 339.0 L412.7 348.9" fill="none" stroke="#231f20" stroke-width="0.5" />
<path d="M420.1 340.2 L414.9 350.1" fill="none" stroke="#231f20" stroke-width="0.5" />
<path d="M486 378 L499 371 L507 384 L494 397 Z" fill="#dcdddf" stroke="#231f20" stroke-width="0.9" />
<path d="M487 383.5 L501 376 M490 391 L504 383" fill="none" stroke="#4d4e52" stroke-width="2.2" />
<ellipse cx="454.59999999999997" cy="366.2" rx="5" ry="4.2" fill="#1a1a1a"/>
<line x1="455.5" y1="288" x2="455.5" y2="438" stroke="#231f20" stroke-width="0.9" stroke-dasharray="10 2.5 2 2.5"/>
<line x1="376" y1="366.5" x2="526" y2="366.5" stroke="#231f20" stroke-width="0.9" stroke-dasharray="10 2.5 2 2.5"/>
<line x1="396.2" y1="433.2" x2="448" y2="372" stroke="#231f20" stroke-width="0.8" stroke-dasharray="8 2.5 2 2.5"/>
<path d="M399 361 L439.3 291.5 L456.5 340" fill="none" stroke="#231f20" stroke-width="6.800000000000001" stroke-linecap="round" stroke-linejoin="round"/>
<path d="M399 361 L439.3 291.5 L456.5 340" fill="none" stroke="#55565b" stroke-width="5.2" stroke-linecap="round" stroke-linejoin="round"/>
<path d="M456 338 C460 348 466 353 475 353" fill="none" stroke="#231f20" stroke-width="7.2" />
<path d="M456 338 C460 348 466 353 475 353" fill="none" stroke="#f0832a" stroke-width="5.4" />
<path d="M474.5 352 H519.5 L470.5 434.5" fill="none" stroke="#231f20" stroke-width="7.199999999999999" stroke-linecap="round" stroke-linejoin="round"/>
<path d="M474.5 352 H519.5 L470.5 434.5" fill="none" stroke="#55565b" stroke-width="5.6" stroke-linecap="round" stroke-linejoin="round"/>
<path d="M413.5 331 L418 323.5 L424.5 327 L420 334.5 Z" fill="#f0832a" stroke="#231f20" stroke-width="0.7" />
<path d="M409.5 338 L412.5 333 L417 335.5 L414 340.5 Z" fill="#f0832a" stroke="#231f20" stroke-width="0.7" />
<path d="M415 329 L421.5 332.5 M416.5 326.5 L423 330" fill="none" stroke="#231f20" stroke-width="0.4" />
<path d="M378.3 349.5 L389.9 343.7 L394.9 347.4 C400 358 406 372 411.4 391.3 L399 395.5 C394 382 386 364 378.3 349.5 Z" fill="#4d4e52" stroke="#231f20" stroke-width="1" />
<path d="M378.3 349.5 C374 354 374.5 362 375.4 366 C377 375 383 386 389 390.5 C393 393.5 396 395 399 395.5 L397.3 388 C394 380 391 375 389.9 369.8 C387 362 382 355 378.3 349.5 Z" fill="#f0832a" stroke="#231f20" stroke-width="1.1" />
<path d="M394.9 347.4 C399 349 402 351 404 354 C409 362 414 370 414.7 377 C415 383 413 388 411.4 390.5 C410 385 409 381 408.9 379.7 C406 372 404 368 403.1 365.6 C400 358 397 352 394.9 347.4 Z" fill="#f0832a" stroke="#231f20" stroke-width="1" />
<path d="M378 358 C380 370 386 381 395 390" fill="none" stroke="#231f20" stroke-width="0.5" />
<path d="M381.5 352 C384 364 389 376 397 387" fill="none" stroke="#231f20" stroke-width="0.5" />
<path d="M393 357 L400 354 L403.5 362 L397 366 Z" fill="#4d4e52" stroke="#231f20" stroke-width="0.8" />
<path d="M398.5 360 L409 342" fill="none" stroke="#231f20" stroke-width="6.0" stroke-linecap="butt" stroke-linejoin="round"/>
<path d="M398.5 360 L409 342" fill="none" stroke="#55565b" stroke-width="4.4" stroke-linecap="butt" stroke-linejoin="round"/>
<line x1="357.4" y1="305.5" x2="444" y2="305.5" stroke="#231f20" stroke-width="1" />
<line x1="357.4" y1="366.5" x2="376" y2="366.5" stroke="#231f20" stroke-width="1" />
<line x1="357.4" y1="436.5" x2="391" y2="436.5" stroke="#231f20" stroke-width="1" />
<line x1="360.5" y1="305.5" x2="360.5" y2="436.2" stroke="#231f20" stroke-width="1" />
<path d="M360.50 305.80 L362.40 316.80 L360.50 314.80 L358.60 316.80 Z" fill="#231f20"/>
<path d="M360.50 366.20 L358.60 355.20 L360.50 357.20 L362.40 355.20 Z" fill="#231f20"/>
<path d="M360.50 366.80 L362.40 377.80 L360.50 375.80 L358.60 377.80 Z" fill="#231f20"/>
<path d="M360.50 436.20 L358.60 425.20 L360.50 427.20 L362.40 425.20 Z" fill="#231f20"/>
<text x="0" y="0" transform="translate(357.4 333.6) rotate(-90)" font-size="13" font-weight="700" text-anchor="middle" fill="#231f20">b</text>
<text x="0" y="0" transform="translate(355.8 402.5) rotate(-90)" font-size="13" font-weight="700" text-anchor="middle" fill="#231f20">a</text>
<path d="M371.4 406.9 A96 96 0 0 0 455.2 459.5" fill="none" stroke="#231f20" stroke-width="0.8"/>
<line x1="390.5" y1="433.2" x2="448" y2="482.9" stroke="#231f20" stroke-width="0.9" />
<line x1="497.9" y1="403.3" x2="510.7" y2="415" stroke="#231f20" stroke-width="0.9" />
<line x1="450.5" y1="481" x2="507.5" y2="416.8" stroke="#231f20" stroke-width="0.9" />
<path d="M448.30 482.80 L453.96 473.11 L454.28 476.07 L457.25 476.03 Z" fill="#231f20"/>
<path d="M508.60 415.30 L502.94 424.99 L502.62 422.03 L499.65 422.07 Z" fill="#231f20"/>
<text x="0" y="0" transform="translate(470.4 447.4) rotate(-45)" font-size="13" font-weight="700" text-anchor="middle" fill="#231f20">c</text>
<rect x="83" y="570" width="1007" height="2" fill="#88898d"/>
<rect x="83" y="649" width="1007" height="2" fill="#88898d"/>
<rect x="83" y="812" width="1007" height="2" fill="#88898d"/>
<rect x="83" y="731" width="509" height="2" fill="#88898d"/>
<rect x="635" y="731" width="174" height="2" fill="#88898d"/>
<rect x="1007" y="731" width="83" height="2" fill="#88898d"/>
<rect x="320" y="570" width="2" height="244" fill="#88898d"/>
<rect x="418" y="570" width="2" height="244" fill="#88898d"/>
<rect x="548" y="570" width="2" height="244" fill="#88898d"/>
<rect x="1008" y="570" width="2" height="244" fill="#88898d"/>
<rect x="202" y="598" width="1" height="215" fill="#88898d"/>
<rect x="591" y="598" width="1" height="215" fill="#88898d"/>
<rect x="635" y="598" width="1" height="215" fill="#88898d"/>
<rect x="678" y="598" width="1" height="215" fill="#88898d"/>
<rect x="721" y="598" width="1" height="215" fill="#88898d"/>
<rect x="765" y="598" width="1" height="215" fill="#88898d"/>
<rect x="808" y="598" width="1" height="215" fill="#88898d"/>
<rect x="895" y="598" width="1" height="215" fill="#88898d"/>
<rect x="951" y="598" width="1" height="215" fill="#88898d"/>
<rect x="1049" y="598" width="1" height="215" fill="#88898d"/>
<rect x="83" y="677" width="237" height="1" fill="#88898d"/>
<rect x="1010" y="677" width="80" height="1" fill="#88898d"/>
<rect x="83" y="704" width="237" height="1" fill="#88898d"/>
<rect x="1010" y="704" width="80" height="1" fill="#88898d"/>
<rect x="83" y="758" width="237" height="1" fill="#88898d"/>
<rect x="1010" y="758" width="80" height="1" fill="#88898d"/>
<rect x="83" y="785" width="237" height="1" fill="#88898d"/>
<rect x="1010" y="785" width="80" height="1" fill="#88898d"/>
<rect x="678" y="704" width="43" height="1" fill="#88898d"/>
<rect x="678" y="785" width="43" height="1" fill="#88898d"/>
<text x="202.3" y="590" font-size="15" font-weight="700" text-anchor="middle" fill="#231f20" textLength="28" lengthAdjust="spacingAndGlyphs" >ТИП</text>
<text x="370.4" y="590" font-size="15" font-weight="700" text-anchor="middle" fill="#231f20" textLength="75.5" lengthAdjust="spacingAndGlyphs" >ПАТРУБОК</text>
<text x="370.2" y="629.5" font-size="15" font-weight="700" text-anchor="middle" fill="#231f20" textLength="20.5" lengthAdjust="spacingAndGlyphs" >DN</text>
<text x="483.5" y="590" font-size="15" font-weight="700" text-anchor="middle" fill="#231f20" textLength="101" lengthAdjust="spacingAndGlyphs" >Прохождение</text>
<text x="484.3" y="607.6" font-size="15" font-weight="700" text-anchor="middle" fill="#231f20" textLength="115" lengthAdjust="spacingAndGlyphs" >твердых частиц</text>
<text x="483.9" y="626" font-size="15" font-weight="700" text-anchor="middle" fill="#231f20" textLength="112" lengthAdjust="spacingAndGlyphs" >во взвешенном</text>
<text x="483.6" y="644.5" font-size="15" font-weight="700" text-anchor="middle" fill="#231f20" textLength="74.5" lengthAdjust="spacingAndGlyphs" >состоянии</text>
<text x="778.7" y="590" font-size="15" font-weight="700" text-anchor="middle" fill="#231f20" textLength="99" lengthAdjust="spacingAndGlyphs" >РАЗМЕРЫ, мм</text>
<text x="1049.5" y="590" font-size="15" font-weight="700" text-anchor="middle" fill="#231f20" >кг</text>
<text x="136.5" y="630" font-size="15" font-weight="700" text-anchor="middle" fill="#231f20" textLength="94.7" lengthAdjust="spacingAndGlyphs" >Однофазный</text>
<text x="253" y="630" font-size="15" font-weight="700" text-anchor="middle" fill="#231f20" textLength="90.1" lengthAdjust="spacingAndGlyphs" >Трехфазный</text>
<text x="570" y="630" font-size="14" font-weight="400" text-anchor="middle" fill="#231f20" >a</text>
<text x="613.5" y="630" font-size="14" font-weight="400" text-anchor="middle" fill="#231f20" >b</text>
<text x="657" y="630" font-size="14" font-weight="400" text-anchor="middle" fill="#231f20" >c</text>
<text x="700" y="630" font-size="14" font-weight="400" text-anchor="middle" fill="#231f20" >h</text>
<text x="743.5" y="630" font-size="14" font-weight="400" text-anchor="middle" fill="#231f20" >h1</text>
<text x="787" y="630" font-size="14" font-weight="400" text-anchor="middle" fill="#231f20" >d</text>
<text x="852" y="630" font-size="14" font-weight="400" text-anchor="middle" fill="#231f20" >e</text>
<text x="923.5" y="630" font-size="14" font-weight="400" text-anchor="middle" fill="#231f20" >p</text>
<rect x="975.25" y="619.25" width="10.5" height="10.5" fill="none" stroke="#231f20" stroke-width="1.2"/>
<line x1="975.25" y1="629.75" x2="985.75" y2="619.25" stroke="#231f20" stroke-width="1.2"/>
<text x="1029.5" y="630" font-size="14" font-weight="400" text-anchor="middle" fill="#231f20" >1~</text>
<text x="1070" y="630" font-size="14" font-weight="400" text-anchor="middle" fill="#231f20" >3~</text>
<text x="89.3" y="669.5" font-size="15" font-weight="700" text-anchor="start" fill="#231f20" textLength="65" lengthAdjust="spacingAndGlyphs" >VXm 8/35</text>
<text x="165.6" y="669.5" font-size="15" font-weight="700" text-anchor="start" fill="#231f20" textLength="20.6" lengthAdjust="spacingAndGlyphs" >-ST</text>
<text x="208.6" y="669.5" font-size="15" font-weight="700" text-anchor="start" fill="#231f20" textLength="51.4" lengthAdjust="spacingAndGlyphs" >VX 8/35</text>
<text x="270.9" y="669.5" font-size="15" font-weight="700" text-anchor="start" fill="#231f20" textLength="21.1" lengthAdjust="spacingAndGlyphs" >-ST</text>
<text x="89.3" y="696.5" font-size="15" font-weight="700" text-anchor="start" fill="#231f20" textLength="97" lengthAdjust="spacingAndGlyphs" >VXm 10/35-ST</text>
<text x="208.6" y="696.5" font-size="15" font-weight="700" text-anchor="start" fill="#231f20" textLength="83.4" lengthAdjust="spacingAndGlyphs" >VX 10/35-ST</text>
<text x="89.3" y="723.5" font-size="15" font-weight="700" text-anchor="start" fill="#231f20" textLength="97" lengthAdjust="spacingAndGlyphs" >VXm 15/35-ST</text>
<text x="208.6" y="723.5" font-size="15" font-weight="700" text-anchor="start" fill="#231f20" textLength="83.4" lengthAdjust="spacingAndGlyphs" >VX 15/35-ST</text>
<text x="89.3" y="751.5" font-size="15" font-weight="700" text-anchor="start" fill="#231f20" textLength="65" lengthAdjust="spacingAndGlyphs" >VXm 8/50</text>
<text x="165.6" y="751.5" font-size="15" font-weight="700" text-anchor="start" fill="#231f20" textLength="20.6" lengthAdjust="spacingAndGlyphs" >-ST</text>
<text x="208.6" y="751.5" font-size="15" font-weight="700" text-anchor="start" fill="#231f20" textLength="51.4" lengthAdjust="spacingAndGlyphs" >VX 8/50</text>
<text x="270.9" y="751.5" font-size="15" font-weight="700" text-anchor="start" fill="#231f20" textLength="21.1" lengthAdjust="spacingAndGlyphs" >-ST</text>
<text x="89.3" y="778" font-size="15" font-weight="700" text-anchor="start" fill="#231f20" textLength="97" lengthAdjust="spacingAndGlyphs" >VXm 10/50-ST</text>
<text x="208.6" y="778" font-size="15" font-weight="700" text-anchor="start" fill="#231f20" textLength="83.4" lengthAdjust="spacingAndGlyphs" >VX 10/50-ST</text>
<text x="89.3" y="805" font-size="15" font-weight="700" text-anchor="start" fill="#231f20" textLength="97" lengthAdjust="spacingAndGlyphs" >VXm 15/50-ST</text>
<text x="208.6" y="805" font-size="15" font-weight="700" text-anchor="start" fill="#231f20" textLength="83.4" lengthAdjust="spacingAndGlyphs" >VX 15/50-ST</text>
<text x="1029.5" y="669.5" font-size="15" font-weight="700" text-anchor="middle" fill="#231f20" textLength="27.5" lengthAdjust="spacingAndGlyphs" >10,3</text>
<text x="1070" y="669.5" font-size="15" font-weight="700" text-anchor="middle" fill="#231f20" textLength="27.5" lengthAdjust="spacingAndGlyphs" >10,0</text>
<text x="1029.5" y="696.5" font-size="15" font-weight="700" text-anchor="middle" fill="#231f20" textLength="27.5" lengthAdjust="spacingAndGlyphs" >11,1</text>
<text x="1070" y="696.5" font-size="15" font-weight="700" text-anchor="middle" fill="#231f20" textLength="27.5" lengthAdjust="spacingAndGlyphs" >10,0</text>
<text x="1029.5" y="723.5" font-size="15" font-weight="700" text-anchor="middle" fill="#231f20" textLength="27.5" lengthAdjust="spacingAndGlyphs" >13,1</text>
<text x="1070" y="723.5" font-size="15" font-weight="700" text-anchor="middle" fill="#231f20" textLength="27.5" lengthAdjust="spacingAndGlyphs" >12,1</text>
<text x="1029.5" y="751.5" font-size="15" font-weight="700" text-anchor="middle" fill="#231f20" textLength="27.5" lengthAdjust="spacingAndGlyphs" >10,4</text>
<text x="1070" y="751.5" font-size="15" font-weight="700" text-anchor="middle" fill="#231f20" textLength="27.5" lengthAdjust="spacingAndGlyphs" >10,1</text>
<text x="1029.5" y="778" font-size="15" font-weight="700" text-anchor="middle" fill="#231f20" textLength="27.5" lengthAdjust="spacingAndGlyphs" >11,2</text>
<text x="1070" y="778" font-size="15" font-weight="700" text-anchor="middle" fill="#231f20" textLength="27.5" lengthAdjust="spacingAndGlyphs" >10,1</text>
<text x="1029.5" y="805" font-size="15" font-weight="700" text-anchor="middle" fill="#231f20" textLength="27.5" lengthAdjust="spacingAndGlyphs" >13,2</text>
<text x="1070" y="805" font-size="15" font-weight="700" text-anchor="middle" fill="#231f20" textLength="27.5" lengthAdjust="spacingAndGlyphs" >12,2</text>
<text x="370" y="697" font-size="14" font-weight="700" text-anchor="middle" fill="#231f20" >1½″</text>
<text x="370" y="778" font-size="14" font-weight="700" text-anchor="middle" fill="#231f20" >2″</text>
<text x="483.5" y="697" font-size="14" font-weight="400" text-anchor="middle" fill="#231f20" >Ø 40 мм</text>
<text x="483.5" y="778" font-size="14" font-weight="400" text-anchor="middle" fill="#231f20" >Ø 50 мм</text>
<text x="570" y="697" font-size="14" font-weight="400" text-anchor="middle" fill="#231f20" >95</text>
<text x="570" y="778" font-size="14" font-weight="400" text-anchor="middle" fill="#231f20" >102</text>
<text x="613.5" y="737.5" font-size="14" font-weight="400" text-anchor="middle" fill="#231f20" >95</text>
<text x="657" y="697" font-size="14" font-weight="400" text-anchor="middle" fill="#231f20" >140</text>
<text x="657" y="778" font-size="14" font-weight="400" text-anchor="middle" fill="#231f20" >145</text>
<text x="700" y="683" font-size="14" font-weight="400" text-anchor="middle" fill="#231f20" >406</text>
<text x="700" y="724" font-size="14" font-weight="400" text-anchor="middle" fill="#231f20" >421</text>
<text x="700" y="764.5" font-size="14" font-weight="400" text-anchor="middle" fill="#231f20" >430</text>
<text x="700" y="805" font-size="14" font-weight="400" text-anchor="middle" fill="#231f20" >445</text>
<text x="743.5" y="697" font-size="14" font-weight="400" text-anchor="middle" fill="#231f20" >87</text>
<text x="743.5" y="778" font-size="14" font-weight="400" text-anchor="middle" fill="#231f20" >102</text>
<text x="787" y="697" font-size="14" font-weight="400" text-anchor="middle" fill="#231f20" >50</text>
<text x="787" y="778" font-size="14" font-weight="400" text-anchor="middle" fill="#231f20" >60</text>
<text x="852" y="737.5" font-size="14" font-weight="400" text-anchor="middle" fill="#231f20" textLength="56" lengthAdjust="spacingAndGlyphs" >регулир.</text>
<text x="923.5" y="737.5" font-size="14" font-weight="400" text-anchor="middle" fill="#231f20" >500</text>
<text x="980" y="737.5" font-size="14" font-weight="400" text-anchor="middle" fill="#231f20" >500</text>
</svg></body></html>
